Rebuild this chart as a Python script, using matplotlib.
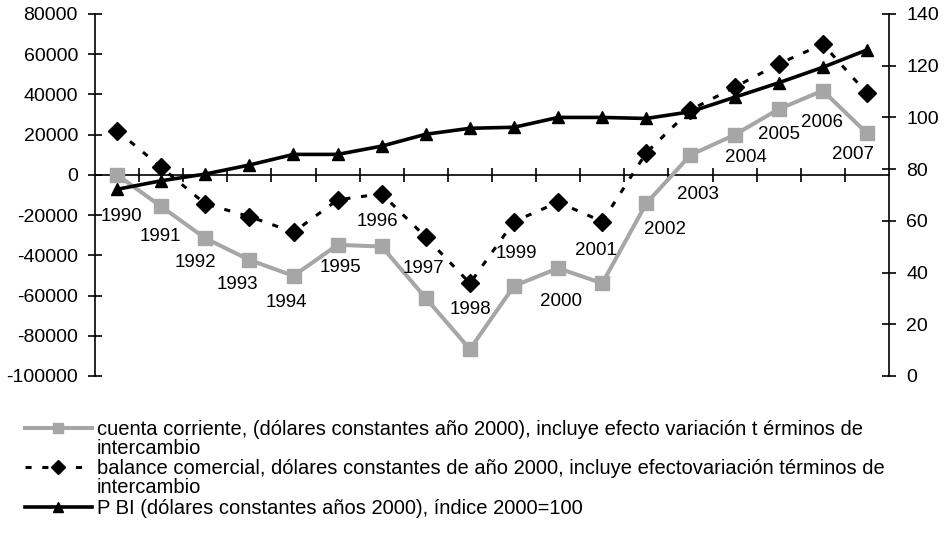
import matplotlib
matplotlib.use("Agg")
import matplotlib.pyplot as plt
from matplotlib.lines import Line2D
from matplotlib import font_manager

years = [str(y) for y in range(1990, 2008)]
cuenta_corriente = [0, -15700, -31500, -42300, -50200, -34800, -35600, -61300, -86700,
                    -55200, -46400, -53900, -14100, 9900, 19900, 32700, 41900, 20700]
balance_comercial = [22000, 3800, -14400, -20700, -28500, -12400, -9400, -31000, -53900,
                     -23200, -13600, -23200, 11100, 32300, 43600, 55200, 65000, 40600]
pbi_indice = [72.2, 75.5, 78.1, 81.6, 85.7, 85.7, 88.9, 93.5, 95.8,
              96.2, 100.0, 100.0, 99.6, 102.2, 107.8, 113.4, 119.4, 126.1]
left_ticks = [80000, 60000, 40000, 20000, 0, -20000, -40000, -60000, -80000, -100000]
right_ticks = [0, 20, 40, 60, 80, 100, 120, 140]
legend_labels = [
    "cuenta corriente, (dólares constantes año 2000), incluye efecto variación t érminos de\nintercambio",
    "balance comercial, dólares constantes de año 2000, incluye efectovariación términos de\nintercambio",
    "P BI (dólares constantes años 2000), índice 2000=100",
]
# label offsets in pixels (text placement only)
label_offsets = [(4, -42), (-1, -30), (-10, -24), (-12, -25), (-7, -27), (3, -23), (-4, 25),
                 (-2, 30), (0, 40), (2, 32), (3, -33), (-6, 33), (19, -26), (7, -40),
                 (11, -23), (0, -25), (-1, -32), (-14, -21)]

names = {f.name for f in font_manager.fontManager.ttflist}
FONT = "Liberation Sans Narrow" if "Liberation Sans Narrow" in names else "Liberation Sans"
plt.rcParams['font.family'] = [FONT, 'DejaVu Sans']

GRAY = '#a6a6a6'
fig = plt.figure(figsize=(9.48, 5.37), dpi=100)
ax = fig.add_axes([95/948, 1-376/537, (889-95)/948, (376-14)/537])
ax2 = ax.twinx()

x = list(range(len(years)))
ax.plot(x, cuenta_corriente, color=GRAY, lw=2.9, marker='s', ms=10, zorder=3)
ax.plot(x, balance_comercial, color='black', lw=2.2, dashes=(2, 3.5), marker='D', ms=9, zorder=4)
ax2.plot(x, pbi_indice, color='black', lw=2.6, marker='^', ms=8, zorder=5)

ax.set_xlim(-0.5, len(years) - 0.5)
ax.set_ylim(-100000, 80000)
ax2.set_ylim(0, 140)
ax.set_yticks(left_ticks)
ax.set_yticklabels([str(v) for v in left_ticks])
ax2.set_yticks(right_ticks)
ax2.set_yticklabels([str(v) for v in right_ticks])
ax.set_xticks([i + 0.5 for i in range(len(years) - 1)])
ax.set_xticklabels([])

for a in (ax, ax2):
    a.spines['top'].set_visible(False)
    a.patch.set_visible(False)
ax.spines['right'].set_visible(False)
ax2.spines['left'].set_visible(False)
ax2.spines['bottom'].set_visible(False)
ax.spines['bottom'].set_position(('data', 0))
for s in ('left', 'bottom'):
    ax.spines[s].set_linewidth(1.2)
ax2.spines['right'].set_linewidth(1.2)

ax.tick_params(axis='y', direction='inout', length=9.5, width=1.2, pad=7.5, labelsize=14)
ax2.tick_params(axis='y', direction='inout', length=9.5, width=1.2, pad=7.5, labelsize=14)
ax.tick_params(axis='x', direction='inout', length=10.5, width=1.2)

for i, yv in enumerate(cuenta_corriente):
    dx, dy = label_offsets[i]
    ax.annotate(years[i], xy=(i, yv), xytext=(dx, dy), textcoords='offset pixels',
                ha='center', va='center', fontsize=13.5, zorder=6)

# legend
rows = [1 - 428/537, 1 - 467/537, 1 - 507/537]
styles = [dict(color=GRAY, lw=2.9, marker='s', ms=7),
          dict(color='black', lw=2.2, dashes=(2, 3.5), marker='D', ms=7),
          dict(color='black', lw=2.6, marker='^', ms=7)]
x0, x1 = 25/948, 92/948
for r, st, lab in zip(rows, styles, legend_labels):
    fig.add_artist(Line2D([x0, (x0 + x1)/2, x1], [r, r, r], markevery=[1],
                          transform=fig.transFigure, **st))
    fig.text(97/948, r + 8/537, lab, ha='left', va='top', fontsize=14.5, linespacing=1.0,
             transform=fig.transFigure)

fig.savefig("out.png", dpi=100)
